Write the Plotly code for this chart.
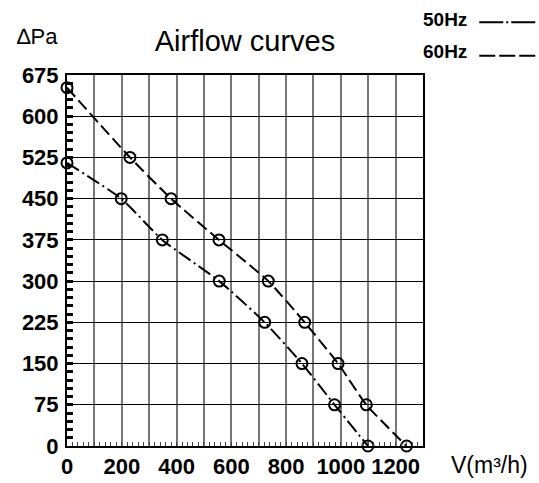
import plotly.graph_objects as go

# ---- data ----
flow_60 = [0, 230, 380, 555, 735, 868, 990, 1093, 1240]
pres_60 = [652, 525, 450, 375, 300, 225, 150, 75, 0]
flow_50 = [0, 198, 348, 556, 722, 858, 977, 1099]
pres_50 = [515, 450, 375, 300, 225, 150, 75, 0]

x_grid_vals = list(range(0, 1400, 100))
x_tick_text = ["0", "", "200", "", "400", "", "600", "", "800", "", "1000", "", "1200", ""]
y_tick_vals = [0, 75, 150, 225, 300, 375, 450, 525, 600, 675]

title_text = "Airflow curves"
y_label = "∆Pa"
x_label = "V(m³/h)"
series_names = ["50Hz", "60Hz"]

FONT = "Liberation Sans, Arial, sans-serif"

fig = go.Figure()
fig.add_trace(go.Scatter(
    x=flow_50, y=pres_50, mode="lines+markers", name=series_names[0],
    line=dict(color="black", width=2, dash="14px,4px,2px,4px", shape="spline", smoothing=0.5),
    marker=dict(symbol="circle-open", size=11, color="black", line=dict(width=2)),
    cliponaxis=False,
))
fig.add_trace(go.Scatter(
    x=flow_60, y=pres_60, mode="lines+markers", name=series_names[1],
    line=dict(color="black", width=2, dash="12px,5px", shape="spline", smoothing=0.5),
    marker=dict(symbol="circle-open", size=11, color="black", line=dict(width=2)),
    cliponaxis=False,
))

fig.update_layout(
    width=539, height=483,
    margin=dict(l=67, r=116, t=75, b=37),
    paper_bgcolor="white", plot_bgcolor="white",
    showlegend=False,
    font=dict(family=FONT, color="black"),
    title=dict(text=title_text, x=0.5, xref="paper", xanchor="center",
               y=1 - 41 / 483, yanchor="middle",
               font=dict(family=FONT, size=29, color="black")),
)

fig.update_xaxes(
    range=[0, 1300], tickmode="array", tickvals=x_grid_vals, ticktext=x_tick_text,
    tickangle=0, automargin=False,
    showgrid=True, gridcolor="#777777", gridwidth=1.5,
    ticks="inside", ticklen=4, tickwidth=1, tickcolor="#444",
    minor=dict(ticks="inside", dtick=20, ticklen=4, tickwidth=1, tickcolor="#444", showgrid=False),
    showline=True, linecolor="black", linewidth=2, mirror=True,
    tickfont=dict(family=FONT, size=22, color="black", weight="bold"),
    zeroline=False,
)
fig.update_yaxes(
    range=[0, 675], tickmode="array", tickvals=y_tick_vals, automargin=False,
    showgrid=True, gridcolor="black", gridwidth=1.2,
    ticks="inside", ticklen=6, tickwidth=3, tickcolor="black",
    minor=dict(ticks="inside", dtick=15, ticklen=6, tickwidth=3, tickcolor="black", showgrid=False),
    showline=True, linecolor="black", linewidth=2, mirror=True,
    tickfont=dict(family=FONT, size=22, color="black", weight="bold"),
    ticklabelstandoff=2,
    zeroline=False,
)

# axis labels
fig.add_annotation(text=y_label, xref="paper", yref="paper", x=-0.147, y=1.104,
                   xanchor="left", yanchor="middle", showarrow=False,
                   font=dict(family=FONT, size=22, color="black"))
fig.add_annotation(text=x_label, xref="paper", yref="paper", x=1.072, y=-0.0525,
                   xanchor="left", yanchor="middle", showarrow=False,
                   font=dict(family=FONT, size=23, color="black"))

# legend (text followed by line sample)
legend_rows = [(series_names[0], 1.149, 1.142, "24px,3px,2px,3px"),
               (series_names[1], 1.0636, 1.052, "16px,4px")]
for name, ty, ly, dash in legend_rows:
    fig.add_annotation(text=name, xref="paper", yref="paper", x=1.13, y=ty,
                       xanchor="right", yanchor="middle", showarrow=False,
                       font=dict(family=FONT, size=19, color="black", weight="bold"))
    fig.add_shape(type="line", xref="paper", yref="paper", x0=1.158, x1=1.321, y0=ly, y1=ly,
                  line=dict(color="black", width=2, dash=dash))

fig.write_html("out.html", config={"displayModeBar": False},
               post_script="document.body.style.margin='0';")
